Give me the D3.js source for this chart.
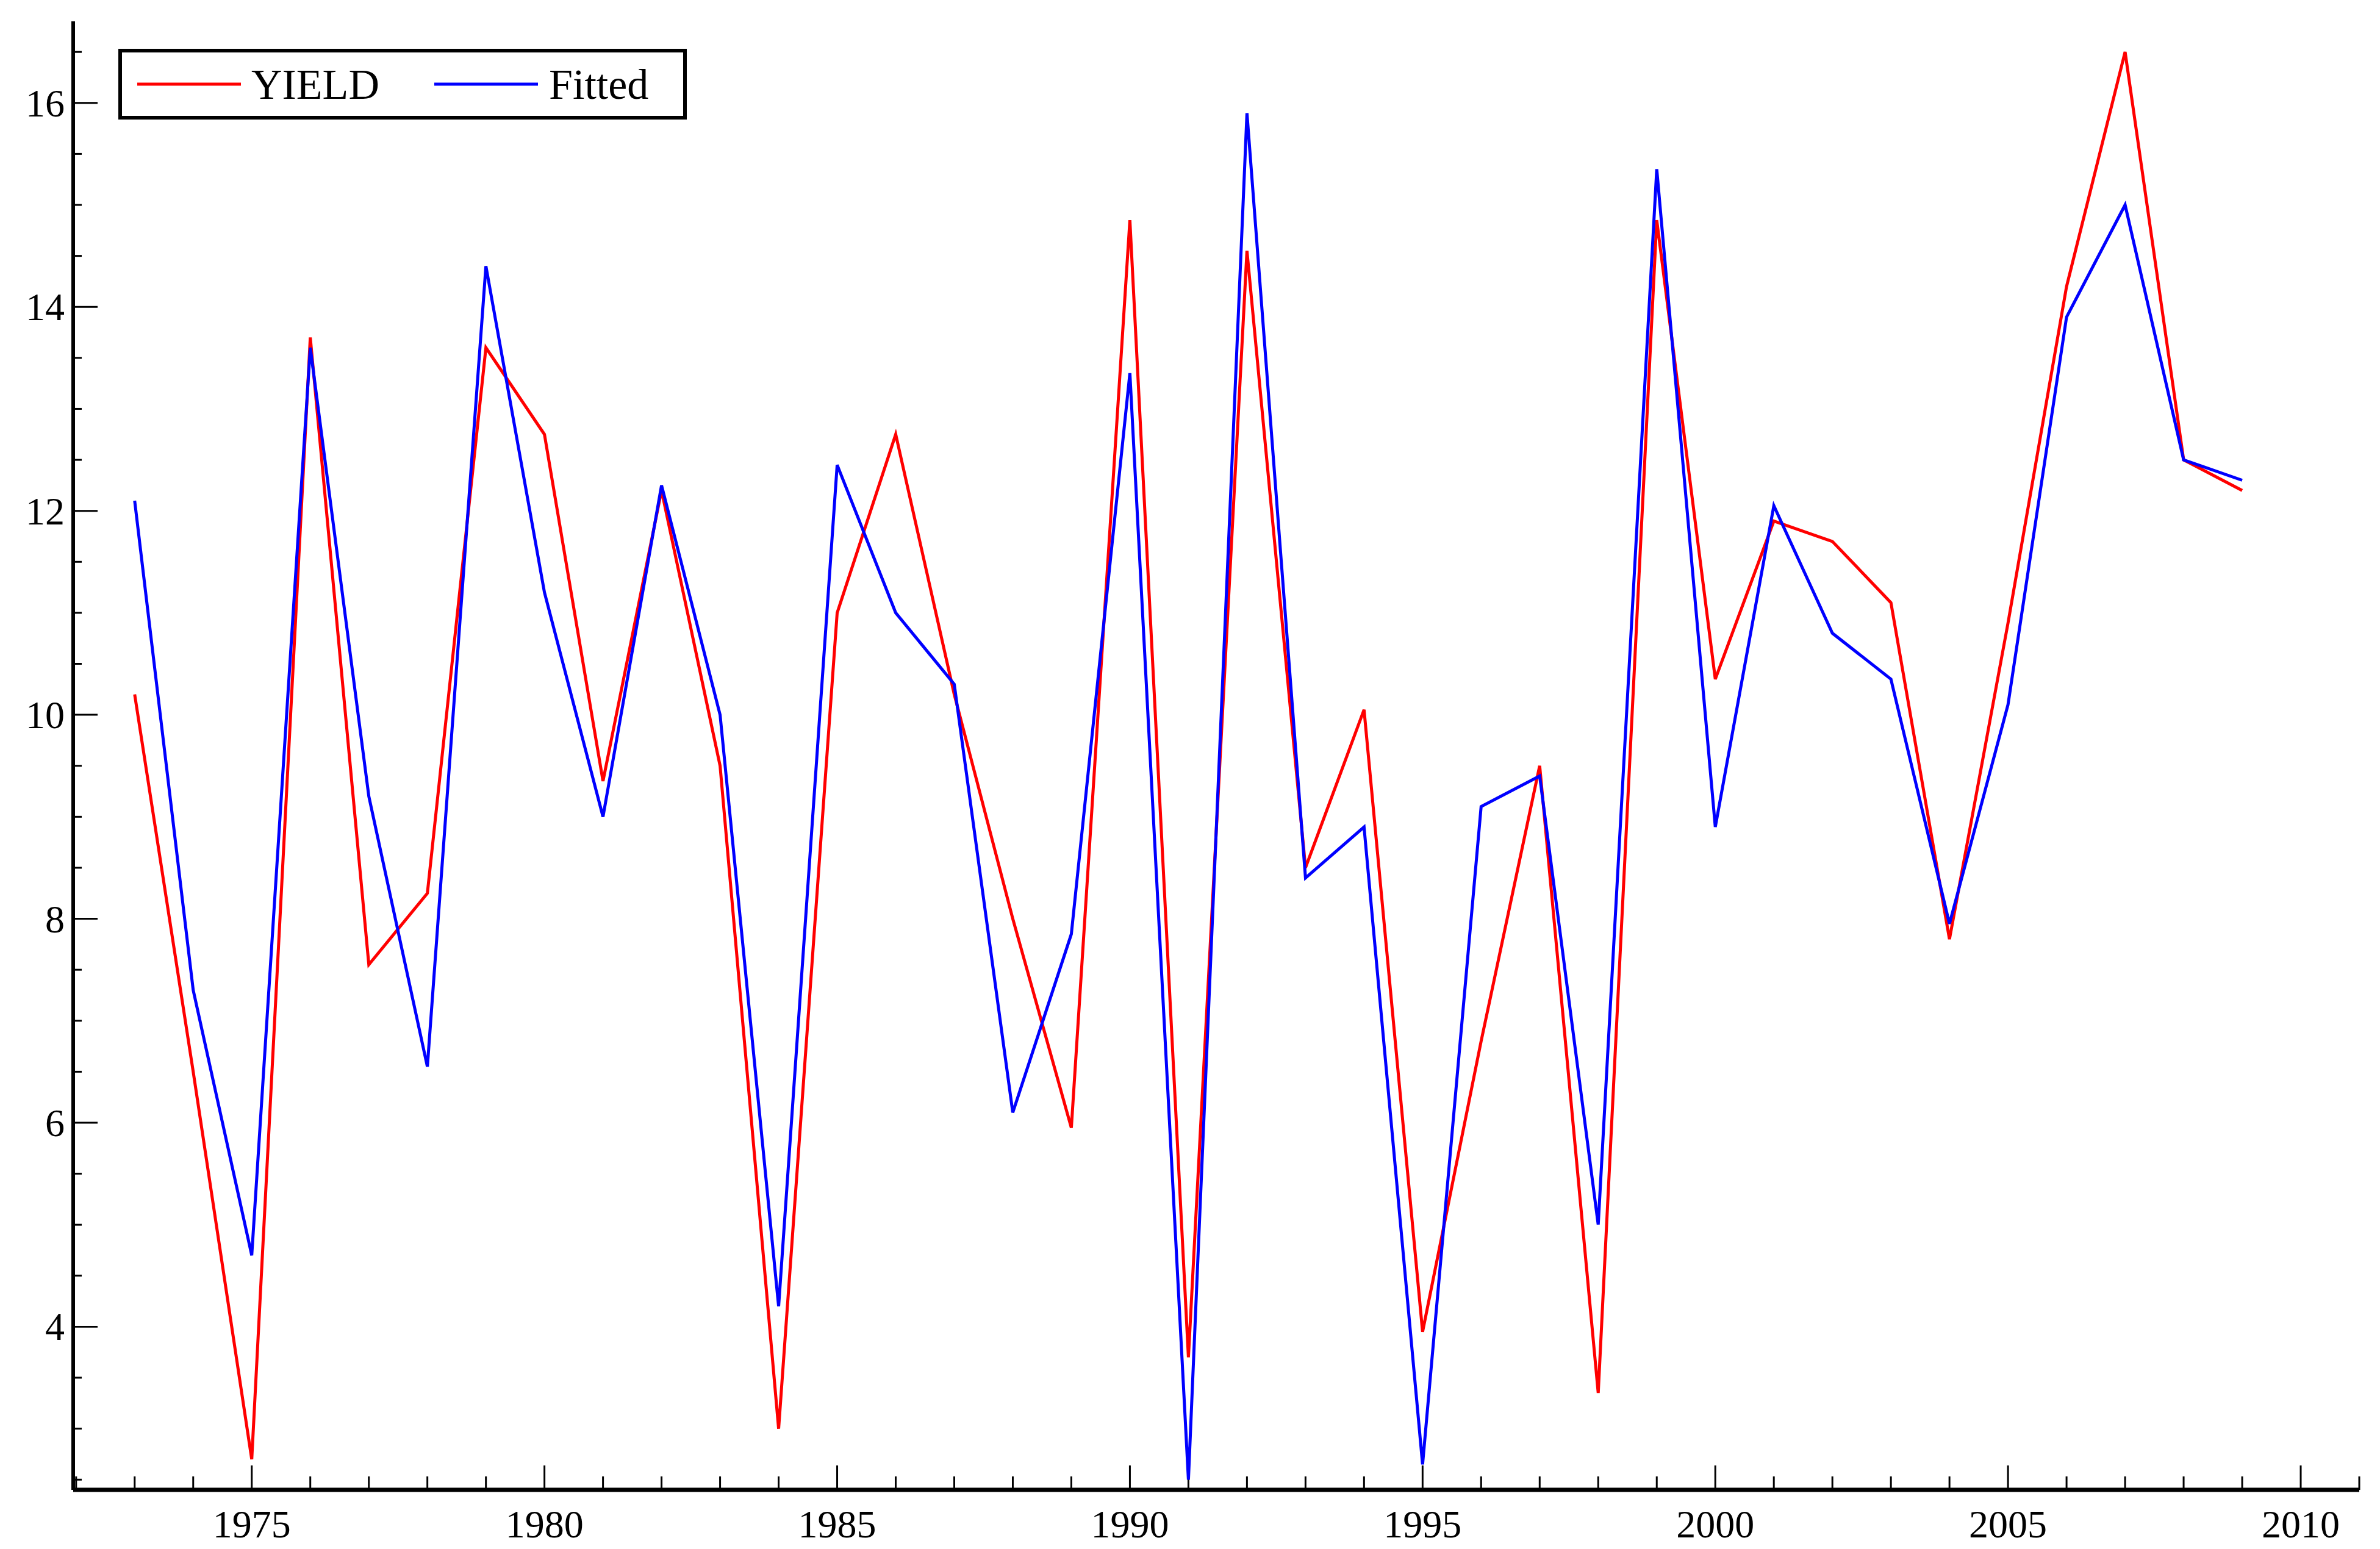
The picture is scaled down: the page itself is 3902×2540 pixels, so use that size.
<!DOCTYPE html>
<html><head><meta charset="utf-8">
<script src="https://cdn.jsdelivr.net/npm/d3@7"></script>
<style>body{margin:0;background:#fff}</style></head>
<body><div id="chart"></div>
<script>
// data
var years = d3.range(1973, 2010);
var yieldVals = [10.2,6.5,2.7,13.7,7.55,8.25,13.6,12.75,9.35,12.2,9.5,3.0,11.0,12.75,10.2,8.0,5.95,14.85,3.7,14.55,8.5,10.05,3.95,6.8,9.5,3.35,14.85,10.35,11.9,11.7,11.1,7.8,10.9,14.2,16.5,12.5,12.2];
var fittedVals = [12.1,7.3,4.7,13.6,9.2,6.55,14.4,11.2,9.0,12.25,10.0,4.2,12.45,11.0,10.3,6.1,7.85,13.35,2.5,15.9,8.4,8.9,2.65,9.1,9.4,5.0,15.35,8.9,12.05,10.8,10.35,7.95,10.1,13.9,15.0,12.5,12.3];
var xTicks = [1975,1980,1985,1990,1995,2000,2005,2010];
var yTicks = [4,6,8,10,12,14,16];

var W = 3902, H = 2540;
var mLeft = 120, mRight = 3868, mTop = 35, mBottom = 2443;

var svg = d3.select("#chart").append("svg")
  .attr("width", W).attr("height", H)
  .style("font-family", "'Liberation Serif', serif");

var x = d3.scaleLinear().domain([1971.95, 2011]).range([mLeft, mRight]);
var y = d3.scaleLinear().domain([2.4, 16.8]).range([mBottom, mTop]);

// minor ticks
svg.selectAll(".xminor").data(d3.range(1972, 2012)).enter().append("line")
  .attr("x1", d => x(d)).attr("x2", d => x(d))
  .attr("y1", mBottom).attr("y2", d => mBottom - (d % 5 == 0 ? 40 : 22))
  .attr("stroke", "#000").attr("stroke-width", 3);
svg.selectAll(".yminor").data(d3.range(2.5, 16.8, 0.5)).enter().append("line")
  .attr("y1", d => y(d)).attr("y2", d => y(d))
  .attr("x1", mLeft).attr("x2", d => mLeft + (d % 2 == 0 ? 40 : 14))
  .attr("stroke", "#000").attr("stroke-width", 3);

// axes
svg.append("line").attr("x1", mLeft).attr("x2", mLeft).attr("y1", mTop).attr("y2", mBottom)
  .attr("stroke", "#000").attr("stroke-width", 6);
svg.append("line").attr("x1", mLeft).attr("x2", mRight).attr("y1", mBottom).attr("y2", mBottom)
  .attr("stroke", "#000").attr("stroke-width", 7);

svg.selectAll(".xlab").data(xTicks).enter().append("text")
  .attr("x", d => x(d)).attr("y", mBottom + 78)
  .attr("text-anchor", "middle").attr("font-size", 64).text(d => d);
svg.selectAll(".ylab").data(yTicks).enter().append("text")
  .attr("x", mLeft - 14).attr("y", d => y(d) + 22)
  .attr("text-anchor", "end").attr("font-size", 64).text(d => d);

var line = d3.line().x((d, i) => x(years[i])).y(d => y(d));
svg.append("path").datum(yieldVals).attr("d", line)
  .attr("fill", "none").attr("stroke", "#ff0000").attr("stroke-width", 5);
svg.append("path").datum(fittedVals).attr("d", line)
  .attr("fill", "none").attr("stroke", "#0000ff").attr("stroke-width", 5);

// legend
var lg = svg.append("g");
lg.append("rect").attr("x", 197).attr("y", 83).attr("width", 926).attr("height", 110)
  .attr("fill", "#fff").attr("stroke", "#000").attr("stroke-width", 6);
lg.append("line").attr("x1", 225).attr("x2", 395).attr("y1", 138).attr("y2", 138)
  .attr("stroke", "#ff0000").attr("stroke-width", 5);
lg.append("text").attr("x", 412).attr("y", 162).attr("font-size", 70).text("YIELD");
lg.append("line").attr("x1", 712).attr("x2", 882).attr("y1", 138).attr("y2", 138)
  .attr("stroke", "#0000ff").attr("stroke-width", 5);
lg.append("text").attr("x", 900).attr("y", 162).attr("font-size", 70).text("Fitted");
</script></body></html>
